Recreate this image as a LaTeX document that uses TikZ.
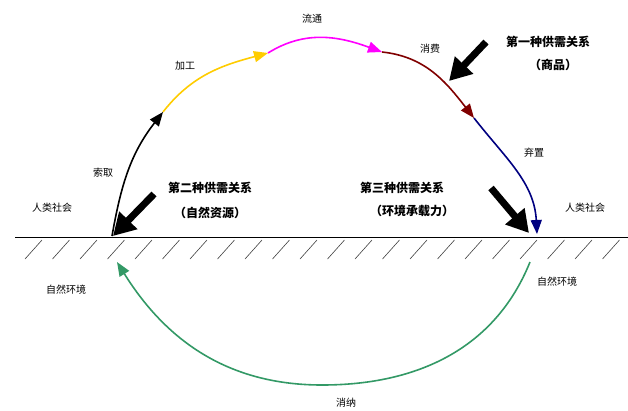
\documentclass[tikz,border=0pt]{standalone}
\usepackage{fontspec}
\setmainfont{Noto Sans CJK SC}
\usetikzlibrary{arrows.meta}
\definecolor{cyel}{HTML}{FFCC00}
\definecolor{cmag}{HTML}{FF00FF}
\definecolor{cred}{HTML}{800000}
\definecolor{cnav}{HTML}{000080}
\definecolor{cgrn}{HTML}{339966}
\tikzset{
  lbl/.style={font=\fontsize{10}{12}\selectfont, inner sep=0pt},
  blbl/.style={font=\fontsize{12}{14}\selectfont\bfseries, inner sep=0pt},
  flow/.style={line width=1.6pt, -{Triangle[length=14pt,width=11pt]}},
  bigarrow/.style={line width=7pt, -{Triangle[length=22pt,width=24pt]}},
  hatch/.style={line width=0.6pt, black!75},
}
\begin{document}
\begin{tikzpicture}[x=1pt,y=-1pt]
\useasboundingbox (0,0) rectangle (628,410);
% ground
\coordinate (gl) at (15,237);
\coordinate (gr) at (628,237);
\draw[line width=0.9pt] (gl) -- (gr);
\foreach \i in {0,...,21} {
  \draw[hatch] ({25+27.5*\i},259) -- ({42+27.5*\i},240);
}
% cycle points
\coordinate (p0) at (112,236);
\coordinate (p1) at (163,112);
\coordinate (p2) at (268,53);
\coordinate (p3) at (382,52);
\coordinate (p4) at (474,118);
\coordinate (p5) at (537,234);
\draw[flow, black] (p0) to[out=80,in=-128] (p1);
\draw[flow, cyel] (p1) to[out=52,in=195] (p2);
\draw[flow, cmag] (p2) to[out=32,in=160] (p3);
\draw[flow, cred] (p3) to[out=-6,in=128] (p4);
\draw[flow, cnav] (p4) to[out=-52,in=93] (p5);
% lower green arc
\coordinate (g0) at (530,262);
\coordinate (gm) at (322,385);
\coordinate (g1) at (117,262);
\draw[flow, cgrn] (g0) to[out=-112,in=0] (gm) to[out=180,in=-58] (g1);
% big black arrows
\coordinate (b1s) at (486,42);
\coordinate (b1e) at (449,81);
\coordinate (b2s) at (154,194);
\coordinate (b2e) at (113,236);
\coordinate (b3s) at (491,188);
\coordinate (b3e) at (529,233);
\draw[bigarrow] (b1s) -- (b1e);
\draw[bigarrow] (b2s) -- (b2e);
\draw[bigarrow] (b3s) -- (b3e);
% labels
\node[lbl] (t1) at (312,19) {流通};
\node[lbl] (t2) at (185,66) {加工};
\node[lbl] (t3) at (430,49) {消费};
\node[blbl] (t4) at (548,42) {第一种供需关系};
\node[blbl] (t5) at (553,65) {（商品）};
\node[lbl] (t6) at (103,173) {索取};
\node[lbl] (t7) at (52,208) {人类社会};
\node[blbl] (t8) at (210,188) {第二种供需关系};
\node[blbl] (t9) at (210,213) {（自然资源）};
\node[blbl] (t10) at (402,188) {第三种供需关系};
\node[blbl] (t11) at (412,211) {（环境承载力）};
\node[lbl] (t12) at (534,153) {弃置};
\node[lbl] (t13) at (585,208) {人类社会};
\node[lbl] (t14) at (66,290) {自然环境};
\node[lbl] (t15) at (557,282) {自然环境};
\node[lbl] (t16) at (346,403) {消纳};
\end{tikzpicture}
\end{document}
